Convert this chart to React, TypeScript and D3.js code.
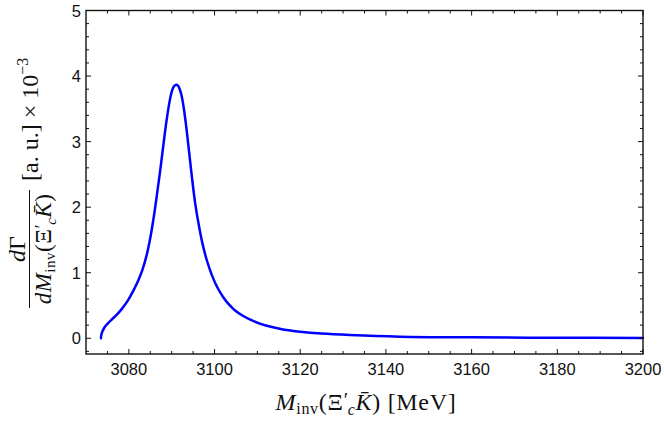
import React, { useEffect } from "react";
import * as d3 from "d3";

// spectrum (MeV, value x 10^-3)
const mInv = [
  3073.5, 3073.55, 3073.8, 3074.3, 3075.0, 3076.0, 3077.2, 3078.5, 3079.9, 3081.0,
  3082.2, 3083.2, 3084.2, 3085.0, 3085.7, 3086.5, 3087.3, 3088.1, 3088.8, 3089.5,
  3090.0, 3090.5, 3091.0, 3091.5, 3092.2, 3092.8, 3093.5, 3094.1, 3094.7, 3095.5,
  3096.4, 3097.2, 3098.2, 3099.4, 3100.7, 3102.0, 3103.3, 3104.8, 3106.7, 3109.0,
  3112.2, 3116.0, 3120.0, 3125.0, 3131.6, 3143.3, 3160.0, 3180.0, 3200.0,
];
const rate = [
  0.0, 0.04, 0.1, 0.165, 0.22, 0.285, 0.36, 0.46, 0.59, 0.72,
  0.88, 1.05, 1.28, 1.53, 1.8, 2.16, 2.55, 2.97, 3.32, 3.61,
  3.76, 3.84, 3.866, 3.85, 3.73, 3.52, 3.17, 2.82, 2.47, 2.05,
  1.7, 1.44, 1.19, 0.96, 0.77, 0.63, 0.52, 0.425, 0.34, 0.265,
  0.19, 0.135, 0.1, 0.072, 0.05, 0.025, 0.014, 0.008, 0.004,
];

const xTicks = [3080, 3100, 3120, 3140, 3160, 3180, 3200];
const yTicks = [0, 1, 2, 3, 4, 5];

const W = 664;
const H = 421;
const plot = { left: 86, right: 643, top: 10.5, bottom: 354 };

const serif = "'Liberation Serif', 'Times New Roman', serif";
const sans = "'Liberation Sans', Arial, sans-serif";

export default function App() {
  useEffect(() => {
    document.body.style.margin = "0";
  }, []);

  const x = d3.scaleLinear().domain([3070, 3200]).range([plot.left, plot.right]);
  const y = d3.scaleLinear().domain([-0.24, 5]).range([plot.bottom, plot.top]);

  const pts: [number, number][] = mInv.map((m, i) => [m, rate[i]]);
  const line = d3
    .line<[number, number]>()
    .x((d) => x(d[0]))
    .y((d) => y(d[1]))
    .curve(d3.curveCatmullRom.alpha(0.5));

  const xMinor = d3.range(3075, 3200, 5).filter((v) => !xTicks.includes(v));
  const yMinor = d3
    .range(-0.2, 5, 0.2)
    .map((v) => Math.round(v * 10) / 10)
    .filter((v) => !yTicks.includes(v));

  const major = 5;
  const minor = 3;
  const tk = { stroke: "#111", strokeWidth: 1 };

  return (
    <svg width={W} height={H} style={{ display: "block", position: "absolute", left: 0, top: 0 }}>
      <rect width={W} height={H} fill="#fff" />

      <path d={line(pts) || ""} fill="none" stroke="#0000ff" strokeWidth={2.5} strokeLinejoin="round" strokeLinecap="round" />

      {/* frame ticks, all four sides, pointing in */}
      {xTicks.map((v) => (
        <g key={"xt" + v}>
          <line x1={x(v)} x2={x(v)} y1={plot.bottom} y2={plot.bottom - major} {...tk} />
          <line x1={x(v)} x2={x(v)} y1={plot.top} y2={plot.top + major} {...tk} />
        </g>
      ))}
      {xMinor.map((v) => (
        <g key={"xm" + v}>
          <line x1={x(v)} x2={x(v)} y1={plot.bottom} y2={plot.bottom - minor} {...tk} />
          <line x1={x(v)} x2={x(v)} y1={plot.top} y2={plot.top + minor} {...tk} />
        </g>
      ))}
      {yTicks.map((v) => (
        <g key={"yt" + v}>
          <line x1={plot.left} x2={plot.left + major} y1={y(v)} y2={y(v)} {...tk} />
          <line x1={plot.right} x2={plot.right - major} y1={y(v)} y2={y(v)} {...tk} />
        </g>
      ))}
      {yMinor.map((v) => (
        <g key={"ym" + v}>
          <line x1={plot.left} x2={plot.left + minor} y1={y(v)} y2={y(v)} {...tk} />
          <line x1={plot.right} x2={plot.right - minor} y1={y(v)} y2={y(v)} {...tk} />
        </g>
      ))}

      <rect
        x={plot.left}
        y={plot.top}
        width={plot.right - plot.left}
        height={plot.bottom - plot.top}
        fill="none"
        stroke="#111"
        strokeWidth={1.4}
      />

      {/* tick labels */}
      {xTicks.map((v) => (
        <text key={"xl" + v} x={x(v)} y={plot.bottom + 21} textAnchor="middle" fontFamily={sans} fontSize={16.5} fill="#111">
          {v}
        </text>
      ))}
      {yTicks.map((v) => (
        <text key={"yl" + v} x={plot.left - 5} y={y(v) + 6} textAnchor="end" fontFamily={sans} fontSize={16.5} fill="#111">
          {v}
        </text>
      ))}

      {/* x title */}
      <text x={366} y={410} textAnchor="middle" fontFamily={serif} fontSize={24} letterSpacing={0.7} fill="#111">
        <tspan fontStyle="italic">M</tspan>
        <tspan fontSize={16} dy={4}>inv</tspan>
        <tspan dy={-4}>(Ξ</tspan>
        <tspan fontSize={20} dy={-3}>′</tspan>
        <tspan fontSize={16} fontStyle="italic" dx={-1} dy={8}>c</tspan>
        <tspan fontStyle="italic" dy={-5}>K̄</tspan>
        <tspan>) [MeV]</tspan>
      </text>

      {/* y title, rotated */}
      <g transform="rotate(-90)" fontFamily={serif} fill="#111">
        <text x={-249} y={25} textAnchor="middle" fontSize={24}>
          <tspan fontStyle="italic">d</tspan>Γ
        </text>
        <line x1={-308} x2={-190} y1={29.5} y2={29.5} stroke="#111" strokeWidth={1} />
        <text x={-249} y={51} textAnchor="middle" fontSize={23} letterSpacing={0.5}>
          <tspan fontStyle="italic">dM</tspan>
          <tspan fontSize={15} dy={4}>inv</tspan>
          <tspan dy={-4}>(Ξ</tspan>
          <tspan fontSize={19} dy={-3}>′</tspan>
          <tspan fontSize={15} fontStyle="italic" dx={-1} dy={8}>c</tspan>
          <tspan fontStyle="italic" dy={-5}>K̄</tspan>
          <tspan>)</tspan>
        </text>
        <text x={-181} y={38} textAnchor="start" fontSize={24}>
          <tspan>[a. u.] × 10</tspan>
          <tspan fontSize={16} dy={-10}>−3</tspan>
        </text>
      </g>
    </svg>
  );
}
